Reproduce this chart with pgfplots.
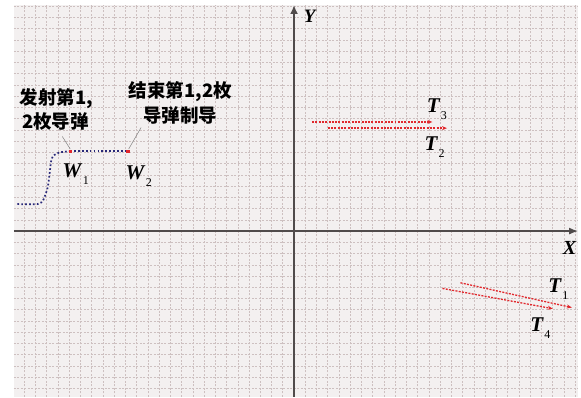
\documentclass[border=0pt]{standalone}
\usepackage{fontspec}
\setmainfont{Liberation Serif}
\newfontfamily\cjk{Noto Sans CJK SC}
\usepackage{pgfplots}
\pgfplotsset{compat=1.18}
\usetikzlibrary{arrows.meta}
\definecolor{bgc}{RGB}{243,240,240}
\definecolor{gridc}{RGB}{205,192,192}
\definecolor{navyd}{RGB}{40,40,120}
\definecolor{redd}{RGB}{225,40,45}
\definecolor{axc}{RGB}{80,75,75}
\newcommand{\lab}[2]{{\fontsize{21}{22}\selectfont\textbf{\textit{#1}}}\kern0.5pt\raisebox{-7pt}{\fontsize{12}{12}\selectfont #2}}
\begin{document}
\begin{tikzpicture}
\begin{axis}[
  scale only axis,
  width=564.2pt, height=392.1pt,
  xmin=-24.9, xmax=25.25, ymin=-14.75, ymax=20.1,
  axis lines=middle,
  x axis line style={line width=1.2pt, color=axc, -{Latex[length=9pt,width=7pt]}},
  y axis line style={line width=2pt, color=axc, -{Latex[length=9pt,width=8pt]}},
  axis background/.style={fill=bgc},
  xtick={-24,...,25}, ytick={-14,...,20},
  xticklabels={}, yticklabels={},
  major tick length=0pt,
  grid=major,
  major grid style={color=gridc, line width=0.6pt, dash pattern=on 2pt off 1.5pt},
  clip=false,
]
% W trajectory
\addplot[navyd, line width=1.7pt, dash pattern=on 1.7pt off 2.2pt, smooth, tension=0.4] coordinates {
  (-24.6,2.4) (-22.8,2.4) (-22.3,2.75) (-21.9,3.9) (-21.7,5.4) (-21.6,6.2) (-21.4,6.7) (-20.8,7.0) (-19.9,7.1)
};
\addplot[navyd, line width=1.7pt, dash pattern=on 1.7pt off 2.2pt] coordinates {
  (-19.9,7.1) (-14.8,7.1)
};
\addplot[only marks, mark=square*, mark size=1.3pt, redd] coordinates {(-19.9,7.1) (-14.8,7.1)};
% leader lines
\draw[gray, line width=0.5pt] (axis cs:-19.9,7.3) -- (axis cs:-20.6,8.4);
\draw[gray, line width=0.5pt] (axis cs:-14.7,7.3) -- (axis cs:-13.6,9.2);
% T lines
\addplot[redd, line width=1.3pt, dash pattern=on 2pt off 1.3pt, -{Stealth[length=5pt,width=4pt]}] coordinates {(1.6,9.7) (12.3,9.7)};
\addplot[redd, line width=1.3pt, dash pattern=on 2pt off 1.3pt, -{Stealth[length=5pt,width=4pt]}] coordinates {(3.0,9.15) (13.6,9.15)};
\addplot[redd, line width=1.3pt, dash pattern=on 2pt off 1.3pt, -{Stealth[length=5pt,width=4pt]}] coordinates {(14.8,-4.6) (24.7,-6.8)};
\addplot[redd, line width=1.3pt, dash pattern=on 2pt off 1.3pt, -{Stealth[length=5pt,width=4pt]}] coordinates {(13.2,-5.1) (23.0,-6.9)};
% labels
\node[anchor=west, inner sep=0pt, font=\cjk\bfseries\fontsize{18.5}{20}\selectfont] at (axis cs:-24.4,11.8) {发射第1,};
\node[anchor=west, inner sep=0pt, font=\cjk\bfseries\fontsize{18.5}{20}\selectfont] at (axis cs:-24.2,9.7) {2枚导弹};
\node[inner sep=0pt, font=\cjk\bfseries\fontsize{18.5}{20}\selectfont] at (axis cs:-10.1,12.4) {结束第1,2枚};
\node[inner sep=0pt, font=\cjk\bfseries\fontsize{18.5}{20}\selectfont] at (axis cs:-10.1,10.3) {导弹制导};
\node[anchor=base west, inner sep=0pt] at (axis cs:-20.6,4.75) {\lab{W}{1}};
\node[anchor=base west, inner sep=0pt] at (axis cs:-15.0,4.55) {\lab{W}{2}};
\node[anchor=base west, inner sep=0pt] at (axis cs:11.8,10.55) {\lab{T}{3}};
\node[anchor=base west, inner sep=0pt] at (axis cs:11.6,7.15) {\lab{T}{2}};
\node[anchor=base west, inner sep=0pt] at (axis cs:22.6,-5.45) {\lab{T}{1}};
\node[anchor=base west, inner sep=0pt] at (axis cs:21.0,-8.95) {\lab{T}{4}};
\node[inner sep=0pt, font=\fontsize{20}{22}\selectfont\bfseries\itshape] at (axis cs:24.5,-1.5) {X};
\node[inner sep=0pt, font=\fontsize{19}{22}\selectfont\bfseries\itshape] at (axis cs:1.4,19.1) {Y};
\end{axis}
\path (current axis.south west) ++(-14pt,-1pt) coordinate (bbA);
\path (current axis.north east) ++(3pt,5pt) coordinate (bbB);
\path[use as bounding box] (bbA) rectangle (bbB);
\end{tikzpicture}
\end{document}
